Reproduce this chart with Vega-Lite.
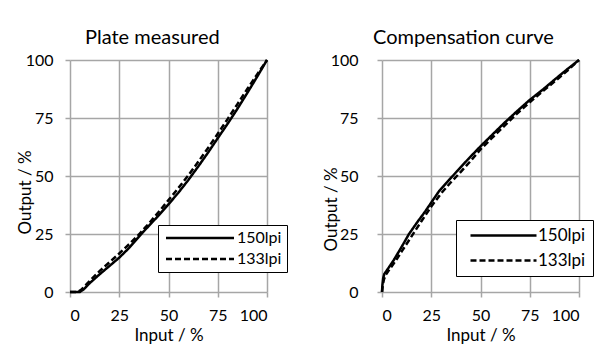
{
  "$schema": "https://vega.github.io/schema/vega-lite/v6.json",
  "padding": {"left": 16, "top": 28, "right": 5, "bottom": 5},
  "spacing": 34,
  "resolve": {"scale": {"strokeDash": "independent"}, "legend": {"strokeDash": "independent"}},
  "datasets": {
    "plate": [
      {"input": 0, "output": 0, "series": "150lpi"},
      {"input": 5, "output": 0, "series": "150lpi"},
      {"input": 7, "output": 1.2, "series": "150lpi"},
      {"input": 10, "output": 3.8, "series": "150lpi"},
      {"input": 15, "output": 7.6, "series": "150lpi"},
      {"input": 20, "output": 11.2, "series": "150lpi"},
      {"input": 25, "output": 14.8, "series": "150lpi"},
      {"input": 30, "output": 19, "series": "150lpi"},
      {"input": 36, "output": 24.8, "series": "150lpi"},
      {"input": 40, "output": 28.5, "series": "150lpi"},
      {"input": 45, "output": 33, "series": "150lpi"},
      {"input": 50, "output": 37.8, "series": "150lpi"},
      {"input": 55, "output": 42.8, "series": "150lpi"},
      {"input": 60, "output": 48.2, "series": "150lpi"},
      {"input": 65, "output": 54, "series": "150lpi"},
      {"input": 70, "output": 60, "series": "150lpi"},
      {"input": 75, "output": 66.3, "series": "150lpi"},
      {"input": 80, "output": 72.5, "series": "150lpi"},
      {"input": 85, "output": 79, "series": "150lpi"},
      {"input": 90, "output": 85.8, "series": "150lpi"},
      {"input": 95, "output": 92.8, "series": "150lpi"},
      {"input": 100, "output": 100, "series": "150lpi"},
      {"input": 0, "output": 0, "series": "133lpi"},
      {"input": 4, "output": 0, "series": "133lpi"},
      {"input": 6, "output": 1.2, "series": "133lpi"},
      {"input": 10, "output": 4.8, "series": "133lpi"},
      {"input": 15, "output": 9, "series": "133lpi"},
      {"input": 20, "output": 12.8, "series": "133lpi"},
      {"input": 25, "output": 16.6, "series": "133lpi"},
      {"input": 30, "output": 20.6, "series": "133lpi"},
      {"input": 35, "output": 24.8, "series": "133lpi"},
      {"input": 40, "output": 29.5, "series": "133lpi"},
      {"input": 45, "output": 34.5, "series": "133lpi"},
      {"input": 50, "output": 39.6, "series": "133lpi"},
      {"input": 55, "output": 44.8, "series": "133lpi"},
      {"input": 60, "output": 50.2, "series": "133lpi"},
      {"input": 65, "output": 56, "series": "133lpi"},
      {"input": 70, "output": 62, "series": "133lpi"},
      {"input": 75, "output": 68.2, "series": "133lpi"},
      {"input": 80, "output": 74.5, "series": "133lpi"},
      {"input": 85, "output": 81, "series": "133lpi"},
      {"input": 90, "output": 87.5, "series": "133lpi"},
      {"input": 95, "output": 93.8, "series": "133lpi"},
      {"input": 100, "output": 100, "series": "133lpi"}
    ],
    "comp": [
      {"input": 0, "output": 0, "series": "150lpi"},
      {"input": 0.2, "output": 3, "series": "150lpi"},
      {"input": 0.6, "output": 6, "series": "150lpi"},
      {"input": 1.2, "output": 7.8, "series": "150lpi"},
      {"input": 3, "output": 10, "series": "150lpi"},
      {"input": 6, "output": 13.8, "series": "150lpi"},
      {"input": 10, "output": 19.5, "series": "150lpi"},
      {"input": 13.7, "output": 25, "series": "150lpi"},
      {"input": 18, "output": 30.2, "series": "150lpi"},
      {"input": 22, "output": 34.8, "series": "150lpi"},
      {"input": 26, "output": 39.8, "series": "150lpi"},
      {"input": 29, "output": 43.5, "series": "150lpi"},
      {"input": 33, "output": 47.3, "series": "150lpi"},
      {"input": 38, "output": 52, "series": "150lpi"},
      {"input": 44, "output": 57.5, "series": "150lpi"},
      {"input": 50, "output": 62.8, "series": "150lpi"},
      {"input": 56, "output": 67.8, "series": "150lpi"},
      {"input": 62, "output": 72.8, "series": "150lpi"},
      {"input": 68, "output": 77.5, "series": "150lpi"},
      {"input": 75, "output": 82.8, "series": "150lpi"},
      {"input": 82, "output": 87.5, "series": "150lpi"},
      {"input": 88, "output": 91.8, "series": "150lpi"},
      {"input": 94, "output": 96, "series": "150lpi"},
      {"input": 100, "output": 100, "series": "150lpi"},
      {"input": 0, "output": 0, "series": "133lpi"},
      {"input": 0.4, "output": 3, "series": "133lpi"},
      {"input": 1, "output": 5.5, "series": "133lpi"},
      {"input": 2, "output": 7.5, "series": "133lpi"},
      {"input": 4, "output": 10, "series": "133lpi"},
      {"input": 7, "output": 13.5, "series": "133lpi"},
      {"input": 10, "output": 17.5, "series": "133lpi"},
      {"input": 15, "output": 24, "series": "133lpi"},
      {"input": 20, "output": 30.5, "series": "133lpi"},
      {"input": 25, "output": 36.8, "series": "133lpi"},
      {"input": 30, "output": 42.5, "series": "133lpi"},
      {"input": 35, "output": 47.3, "series": "133lpi"},
      {"input": 40, "output": 51.8, "series": "133lpi"},
      {"input": 45, "output": 56.5, "series": "133lpi"},
      {"input": 50, "output": 61.5, "series": "133lpi"},
      {"input": 56, "output": 66.5, "series": "133lpi"},
      {"input": 62, "output": 71.5, "series": "133lpi"},
      {"input": 68, "output": 76.5, "series": "133lpi"},
      {"input": 75, "output": 81.8, "series": "133lpi"},
      {"input": 82, "output": 86.8, "series": "133lpi"},
      {"input": 88, "output": 91, "series": "133lpi"},
      {"input": 94, "output": 95.3, "series": "133lpi"},
      {"input": 100, "output": 100, "series": "133lpi"}
    ]
  },
  "config": {
    "font": "Lato",
    "view": {"stroke": null},
    "axis": {
      "grid": true, "gridColor": "#a6a6a6", "gridWidth": 1.5,
      "domain": false, "tickColor": "#a6a6a6", "tickSize": 5, "tickWidth": 1.5,
      "labelFontSize": 16, "labelColor": "#000", "labelFont": "Lato",
      "titleFontSize": 17, "titleFontWeight": "normal", "titleColor": "#000", "titleFont": "Lato"
    },
    "title": {"fontSize": 20, "fontWeight": "normal", "anchor": "start", "frame": "group", "color": "#000", "font": "Lato"},
    "legend": {
      "orient": "none", "title": null,
      "symbolSize": 100, "symbolStrokeWidth": 2.5, "symbolStrokeColor": "#000",
      "labelFontSize": 16, "labelColor": "#000", "labelFont": "Lato", "labelOffset": 58,
      "strokeColor": "#000", "fillColor": "#fff", "padding": 5, "rowPadding": 5
    }
  },
  "hconcat": [
    {
      "width": 197, "height": 232,
      "title": {"text": "Plate measured", "dx": 15},
      "data": {"name": "plate"},
      "mark": {"type": "line", "strokeWidth": 2.5, "color": "#000"},
      "encoding": {
        "x": {"field": "input", "type": "quantitative", "scale": {"domain": [0, 100]},
              "axis": {"title": "Input / %", "labelPadding": 10, "values": [0, 25, 50, 75, 100]}},
        "y": {"field": "output", "type": "quantitative", "scale": {"domain": [0, 100]},
              "axis": {"title": "Output  / %", "labelPadding": 12, "values": [0, 25, 50, 75, 100], "titleX": -45, "titleY": 132, "titleBaseline": "middle"}},
        "strokeDash": {"field": "series", "type": "nominal",
          "scale": {"domain": ["150lpi", "133lpi"], "range": [[1, 0], [6, 3]]},
          "legend": {"legendX": 88, "legendY": 165,
            "encode": {"symbols": {"update": {"shape": {"value": "M-1,0H12.6"}}}}}}
      }
    },
    {
      "width": 197, "height": 232,
      "title": {"text": "Compensation curve", "dx": -9},
      "data": {"name": "comp"},
      "mark": {"type": "line", "strokeWidth": 2.5, "color": "#000"},
      "encoding": {
        "x": {"field": "input", "type": "quantitative", "scale": {"domain": [0, 100]},
              "axis": {"title": "Input / %", "labelPadding": 10, "values": [0, 25, 50, 75, 100]}},
        "y": {"field": "output", "type": "quantitative", "scale": {"domain": [0, 100]},
              "axis": {"title": "Output / %", "labelPadding": 19, "values": [0, 25, 50, 75, 100], "titleX": -51, "titleY": 149, "titleBaseline": "middle"}},
        "strokeDash": {"field": "series", "type": "nominal",
          "scale": {"domain": ["150lpi", "133lpi"], "range": [[1, 0], [6, 3]]},
          "legend": {"legendX": 74, "legendY": 160, "padding": 7, "rowPadding": 7, "labelFontSize": 17,
            "encode": {"symbols": {"update": {"shape": {"value": "M-0.2,0H13"}}}}}}
      }
    }
  ]
}
